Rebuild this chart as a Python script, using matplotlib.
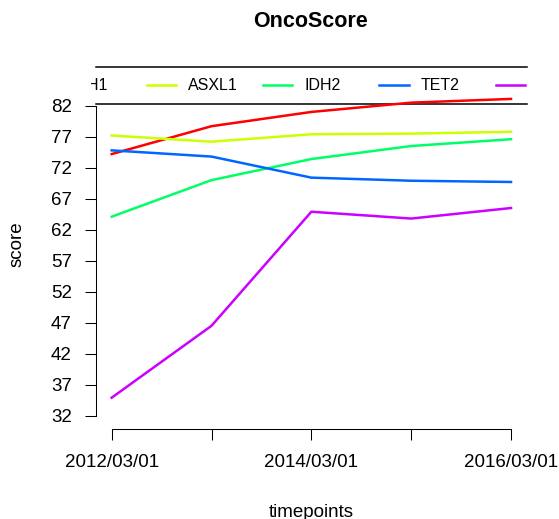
import numpy as np
import matplotlib
matplotlib.use("Agg")
import matplotlib.pyplot as plt

plt.rcParams['font.family'] = ['Liberation Sans', 'DejaVu Sans']

# dati
timepoints = ['2012/03/01', '2013/03/01', '2014/03/01', '2015/03/01', '2016/03/01']
clones = ['IDH1', 'ASXL1', 'IDH2', 'TET2', 'DNMT3A']
colors = ['#FF0000', '#CCFF00', '#00FF66', '#0066FF', '#CC00FF']

idh1 = [74.2, 78.7, 81.0, 82.5, 83.1]
asxl1 = [77.2, 76.2, 77.4, 77.5, 77.8]
idh2 = [64.1, 70.0, 73.4, 75.5, 76.6]
tet2 = [74.8, 73.8, 70.4, 69.9, 69.7]
dnmt3a = [34.9, 46.5, 64.9, 63.8, 65.5]
scores = [idh1, asxl1, idh2, tet2, dnmt3a]

yticks = np.arange(32, 83, 5)

W, H = 559, 519
fig = plt.figure(figsize=(W / 100, H / 100), dpi=100)

# area del grafico (in pixel)
left, right, top, bottom = 95.7, 527, 67, 429.3
ax = fig.add_axes([left / W, 1 - bottom / H, (right - left) / W, (bottom - top) / H])
ax.set_zorder(2)
ax.patch.set_alpha(0)

x = np.arange(len(timepoints))
for s, c in zip(scores, colors):
    ax.plot(x, s, color=c, lw=1.8)

ax.set_xlim(-0.16, 4.16)
ax.set_ylim(29.8, 88.25)

ax.set_yticks(yticks)
ax.set_yticklabels([str(v) for v in yticks])
ax.set_xticks(x)
ax.set_xticklabels([t if i % 2 == 0 else '' for i, t in enumerate(timepoints)])

for sp in ['top', 'right']:
    ax.spines[sp].set_visible(False)
ax.spines['left'].set_bounds(yticks[0], yticks[-1])
ax.spines['bottom'].set_bounds(x[0], x[-1])
for sp in ['left', 'bottom']:
    ax.spines[sp].set_linewidth(0.75)
ax.tick_params(direction='out', length=7.7, width=0.75, labelsize=13.5)
ax.tick_params(axis='y', pad=9.4)
ax.tick_params(axis='x', pad=10.3)

# legenda orizzontale tagliata ai bordi
leg_top, leg_bot = 67, 103.5
clip_left = 91
lax = fig.add_axes([clip_left / W, 1 - leg_bot / H, (right - clip_left) / W, (leg_bot - leg_top) / H])
lax.set_zorder(1)
lax.set_xlim(clip_left, right)
lax.set_ylim(0, 1)
lax.axis('off')
lax.plot([left, right], [1, 1], color='black', lw=1.1, clip_on=False)
lax.plot([left, right], [0, 0], color='black', lw=1.1, clip_on=False)
for i, (name, c) in enumerate(zip(clones, colors)):
    x0 = 30.4 + i * 116.3
    lax.plot([x0, x0 + 29.3], [0.52, 0.52], color=c, lw=1.8, clip_on=True)
    lax.text(x0 + 41.3, 0.5, name, ha='left', va='center', fontsize=11.5, clip_on=True)

fig.text(311 / W, 1 - 27.3 / H, 'OncoScore', ha='center', va='baseline',
         fontsize=15.5, fontweight='bold')
fig.text(311 / W, 1 - 517 / H, 'timepoints', ha='center', va='baseline', fontsize=13.5)
fig.text(17.5 / W, 1 - 244 / H, 'score', ha='center', va='center', rotation=90, fontsize=13.5)

fig.savefig('out.png', dpi=100)
